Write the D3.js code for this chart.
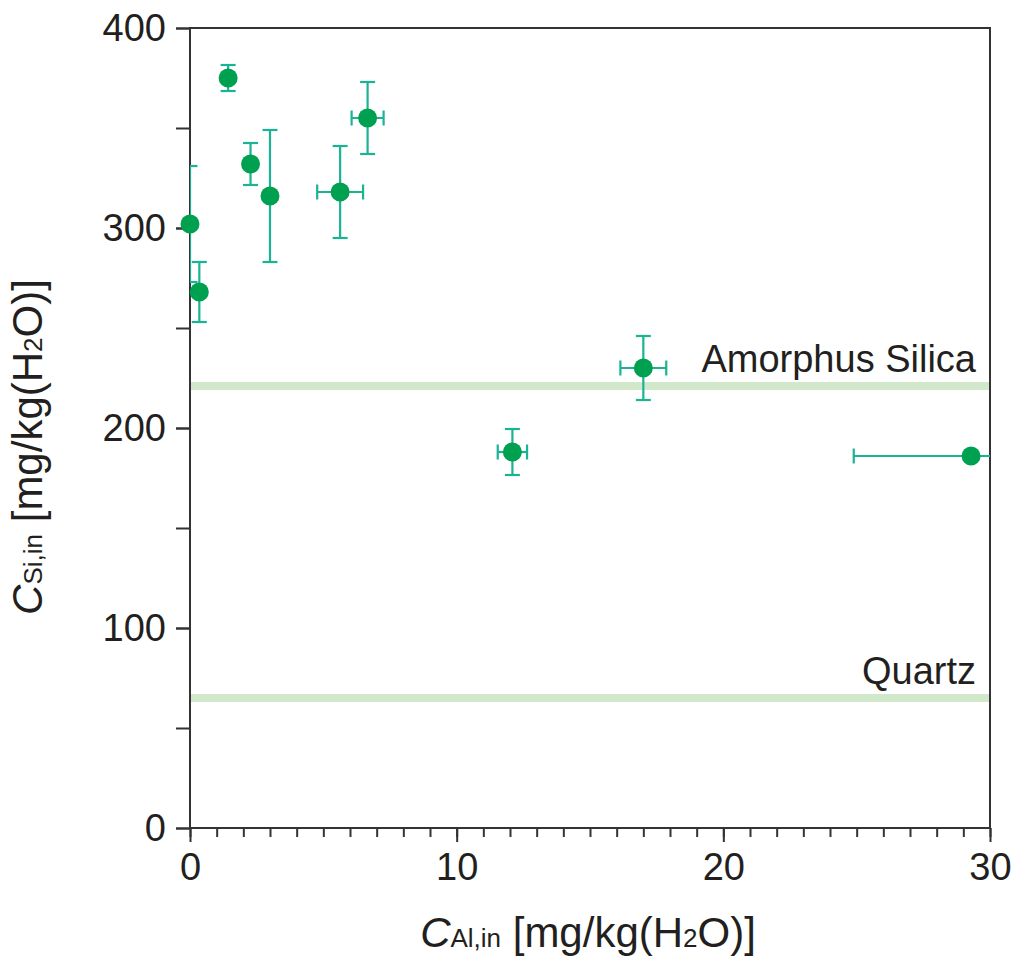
<!DOCTYPE html>
<html><head><meta charset="utf-8">
<script src="https://cdn.jsdelivr.net/npm/d3@7"></script>
<style>body{margin:0;background:#fff}</style>
</head><body>
<svg id="c" width="1016" height="963"></svg>
<script>
const xVals = [0.0, 0.35, 1.43, 2.27, 3.0, 5.63, 6.66, 12.09, 17.0, 29.29];
const yVals = [302, 268, 375, 332, 316, 318, 355, 188, 230, 186];
const yErr  = [29, 15, 6.5, 10.5, 33, 23, 18, 11.5, 16, 0];
const xErr  = [0, 0, 0, 0, 0, 0.86, 0.6, 0.55, 0.86, 4.4];
const refNames = ["Amorphus Silica", "Quartz"];
const refVals = [221, 65];
const xTicks = [0, 10, 20, 30];
const yTicks = [0, 100, 200, 300, 400];

const svg = d3.select("#c");
const L = 190, R = 990, T = 28, B = 828;
const x = d3.scaleLinear().domain([0, 30]).range([L, R]);
const y = d3.scaleLinear().domain([0, 400]).range([B, T]);
const font = "Liberation Sans, Arial, sans-serif";
const ink = "#231f20";

svg.append("clipPath").attr("id","pc").append("rect")
  .attr("x", L).attr("y", T).attr("width", R - L).attr("height", B - T);

// reference lines
svg.append("g").selectAll("line").data(refVals).join("line")
  .attr("x1", L).attr("x2", R).attr("y1", d => y(d)).attr("y2", d => y(d))
  .attr("stroke", "#d2e8cb").attr("stroke-width", 8);
svg.append("g").selectAll("text").data(refNames).join("text")
  .attr("x", 976).attr("y", (d, i) => y(refVals[i]) - 14)
  .attr("text-anchor", "end").attr("font-family", font).attr("font-size", 38)
  .attr("fill", ink).text(d => d);

// axes
const gx = svg.append("g").attr("transform", `translate(0,${B})`)
  .call(d3.axisBottom(x).tickValues(d3.range(0, 31, 1)).tickSize(9).tickFormat(""));
gx.select(".domain").remove();
gx.selectAll("line").attr("stroke", "#333").attr("stroke-width", 2);
const gx2 = svg.append("g").attr("transform", `translate(0,${B})`)
  .call(d3.axisBottom(x).tickValues(xTicks).tickSize(14).tickPadding(11).tickFormat(d3.format("d")));
gx2.select(".domain").remove();
gx2.selectAll("line").attr("stroke", "#333").attr("stroke-width", 2);
gx2.selectAll("text").attr("font-family", font).attr("font-size", 38).attr("fill", ink);

const gy = svg.append("g").attr("transform", `translate(${L},0)`)
  .call(d3.axisLeft(y).tickValues(d3.range(0, 401, 50)).tickSize(14).tickFormat(""));
gy.select(".domain").remove();
gy.selectAll("line").attr("stroke", "#333").attr("stroke-width", 2);
const gy2 = svg.append("g").attr("transform", `translate(${L},0)`)
  .call(d3.axisLeft(y).tickValues(yTicks).tickSize(14).tickPadding(10).tickFormat(d3.format("d")));
gy2.select(".domain").remove();
gy2.selectAll("line").attr("stroke", "#333").attr("stroke-width", 2);
gy2.selectAll("text").attr("font-family", font).attr("font-size", 38).attr("fill", ink);

// frame
svg.append("rect").attr("x", L).attr("y", T).attr("width", R - L).attr("height", B - T)
  .attr("fill", "none").attr("stroke", "#333").attr("stroke-width", 2);

// error bars
const eb = svg.append("g").attr("clip-path", "url(#pc)").attr("stroke", "#1bb394").attr("stroke-width", 2.2).attr("fill", "none");
const cap = 7.5;
xVals.forEach((xv, i) => {
  const cx = x(xv), cy = y(yVals[i]);
  if (yErr[i] > 0) {
    const y1 = y(yVals[i] + yErr[i]), y2 = y(yVals[i] - yErr[i]);
    eb.append("line").attr("x1", cx).attr("x2", cx).attr("y1", y1).attr("y2", y2);
    eb.append("line").attr("x1", cx - cap).attr("x2", cx + cap).attr("y1", y1).attr("y2", y1);
    eb.append("line").attr("x1", cx - cap).attr("x2", cx + cap).attr("y1", y2).attr("y2", y2);
  }
  if (xErr[i] > 0) {
    const x1 = x(xv - xErr[i]), x2 = x(xv + xErr[i]);
    eb.append("line").attr("x1", x1).attr("x2", x2).attr("y1", cy).attr("y2", cy);
    eb.append("line").attr("x1", x1).attr("x2", x1).attr("y1", cy - cap).attr("y2", cy + cap);
    eb.append("line").attr("x1", x2).attr("x2", x2).attr("y1", cy - cap).attr("y2", cy + cap);
  }
});

// points
svg.append("g").selectAll("circle").data(xVals).join("circle")
  .attr("cx", d => x(d)).attr("cy", (d, i) => y(yVals[i])).attr("r", 9.5)
  .attr("fill", "#00a051");

// axis titles
function title(sel, sub) {
  sel.attr("font-family", font).attr("font-size", 42).attr("fill", ink);
  sel.append("tspan").attr("font-style", "italic").text("C");
  sel.append("tspan").attr("font-size", 26).text(sub);
  sel.append("tspan").text(" [mg/kg(H");
  sel.append("tspan").attr("font-size", 26).text("2");
  sel.append("tspan").text("O)]");
}
title(svg.append("text").attr("x", 588).attr("y", 947).attr("text-anchor", "middle"), "Al,in");
title(svg.append("text").attr("transform", "translate(42,447) rotate(-90)").attr("text-anchor", "middle"), "Si,in");
</script>
</body></html>
